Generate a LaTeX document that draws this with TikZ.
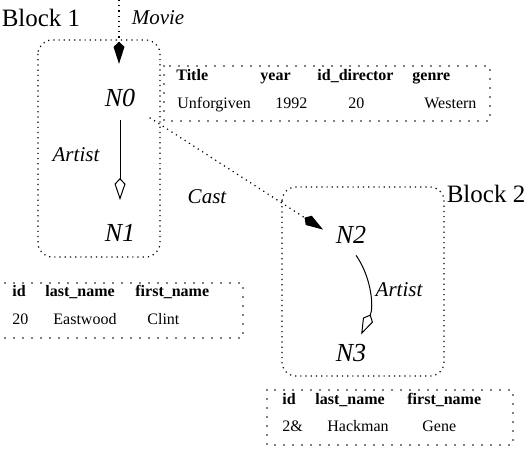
\documentclass[tikz,border=0pt]{standalone}
\usepackage{fontspec}
\setmainfont{Liberation Serif}
\usetikzlibrary{arrows.meta}

\tikzset{
  vertex/.style={font=\fontsize{13}{15}\selectfont\itshape, inner sep=2pt},
  edgelab/.style={font=\fontsize{10.5}{12}\selectfont\itshape},
  blocklab/.style={font=\fontsize{12.5}{14}\selectfont},
  cell/.style={font=\fontsize{8}{9}\selectfont, inner sep=0pt, anchor=base west},
  head/.style={cell, font=\fontsize{8}{9}\selectfont\bfseries},
  blockbox/.style={dotted, line width=0.6pt, rounded corners=7pt},
  tablebox/.style={line width=0.9pt, dash pattern=on 0pt off 4.5pt, line cap=round},
  filltip/.style={-{Kite[length=11pt,width=5.5pt,inset=2.5pt]}},
  opentip/.style={-{Kite[open,length=11pt,width=5.5pt,inset=3pt]}},
}

\begin{document}
\begin{tikzpicture}[x=0.5pt, y=0.5pt]
    \useasboundingbox (0,0) rectangle (528,-453);

    % blocks
    \draw[blockbox] (38,-40) rectangle (160,-257);
    \draw[blockbox] (282,-187) rectangle (444,-376);
    \node[blocklab] (blk1) at (41,-18) {Block 1};
    \node[blocklab] (blk2) at (486,-194) {Block 2};

    % nodes
    \coordinate (src) at (119,0);
    \node[vertex] (n0) at (120,-98) {N0};
    \node[vertex] (n1) at (120,-233) {N1};
    \node[vertex] (n2) at (351,-235) {N2};
    \node[vertex] (n3) at (351,-353) {N3};

    % edges
    \draw[dotted, line width=0.6pt, filltip, shorten >=10.5pt] (src) -- (src |- n0.north);
    \draw[line width=0.5pt, opentip, shorten <=4.5pt, shorten >=10pt] (n0.south) -- (n1.north);
    \draw[dotted, line width=0.6pt, filltip, shorten <=6pt, shorten >=5pt] (n0.south east) -- (n2.west);
    \draw[line width=0.5pt, opentip, shorten <=4.5pt, shorten >=3pt] (n2.south) to[bend left=30] (n3.60);

    \node[edgelab] (lmovie) at (158,-18) {Movie};
    \node[edgelab] (lart1) at (76,-155) {Artist};
    \node[edgelab] (lcast) at (207,-197) {Cast};
    \node[edgelab] (lart2) at (399,-290) {Artist};

    % table Movie
    \draw[tablebox] (164,-66) rectangle (490,-121);
    \node[head] (m-title) at (176,-80.5) {Title};
    \node[head] (m-year) at (260,-80.5) {year};
    \node[head] (m-dir) at (317,-80.5) {id\_director};
    \node[head] (m-genre) at (412,-80.5) {genre};
    \node[cell] (m-v1) at (177,-109) {Unforgiven};
    \node[cell] (m-v2) at (275,-109) {1992};
    \node[cell] (m-v3) at (348,-109) {20};
    \node[cell] (m-v4) at (424,-109) {Western};

    % table Eastwood
    \draw[tablebox] (-3,-283) rectangle (243,-338);
    \node[head] (a-id) at (12,-297) {id};
    \node[head] (a-last) at (45,-297) {last\_name};
    \node[head] (a-first) at (135,-297) {first\_name};
    \node[cell] (a-v1) at (12,-324) {20};
    \node[cell] (a-v2) at (53,-324) {Eastwood};
    \node[cell] (a-v3) at (147,-324) {Clint};

    % table Hackman
    \draw[tablebox] (267,-390) rectangle (513,-445);
    \node[head] (b-id) at (282,-404) {id};
    \node[head] (b-last) at (315,-404) {last\_name};
    \node[head] (b-first) at (407,-404) {first\_name};
    \node[cell] (b-v1) at (282,-431) {2\&};
    \node[cell] (b-v2) at (327,-431) {Hackman};
    \node[cell] (b-v3) at (422,-431) {Gene};
\end{tikzpicture}
\end{document}
